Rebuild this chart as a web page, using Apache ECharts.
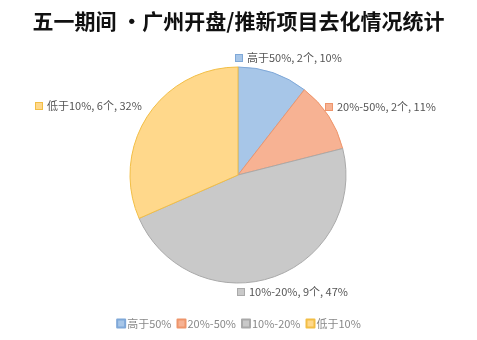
<!DOCTYPE html>
<html><head><meta charset="utf-8">
<script src="https://cdn.jsdelivr.net/npm/echarts@6/dist/echarts.min.js"></script>
<style>html,body{margin:0;padding:0;background:#fff}#c{width:477px;height:340px}</style>
</head><body><div id="c"></div>
<script>
const titleText = '五一期间 ·广州开盘/推新项目去化情况统计';
const categories = ['高于50%', '20%-50%', '10%-20%', '低于10%'];
const counts = [2, 2, 9, 6];
const pctLabels = ['10%', '11%', '47%', '32%'];
const fills = ['#A7C6E8', '#F7B293', '#C9C9C9', '#FFD88B'];
const borders = ['#7FA8D8', '#EE956B', '#A9A9A9', '#F2BE45'];
// label anchor positions (left edge of marker, vertical middle)
const labelPos = [[236, 58], [326, 107], [238, 292], [36, 106]];

const chart = echarts.init(document.getElementById('c'));
const data = categories.map((n, i) => ({
  name: n, value: counts[i],
  itemStyle: {color: fills[i], borderColor: borders[i], borderWidth: 1},
  label: {rich: {m: {width: 6, height: 6, backgroundColor: fills[i], borderColor: borders[i], borderWidth: 1}}}
}));
chart.setOption({
  animation: false,
  title: {text: titleText, left: 'center', top: 6,
    textStyle: {fontFamily: 'Noto Sans CJK SC', fontSize: 21, fontWeight: 'bold', color: '#111'}},
  legend: {bottom: 6, left: 'center', itemWidth: 8, itemHeight: 8, itemGap: 5,
    icon: 'rect',
    textStyle: {fontFamily: 'Noto Sans CJK SC', fontSize: 11, color: '#888', padding: [0, 0, 0, -3]},
    data: categories},
  series: [{
    type: 'pie', center: [238, 175], radius: 108, startAngle: 90, clockwise: true,
    data: data,
    label: {show: true, position: 'outside', overflow: 'none', width: 200,
      formatter: p => '{m|}  ' + p.name + ', ' + p.value + '个, ' + pctLabels[p.dataIndex],
      fontFamily: 'Noto Sans CJK SC', fontSize: 11, color: '#555'},
    labelLine: {show: false},
    labelLayout: p => ({x: labelPos[p.dataIndex][0], y: labelPos[p.dataIndex][1], align: 'left', verticalAlign: 'middle'}),
    emphasis: {disabled: true}
  }]
});
</script></body></html>
